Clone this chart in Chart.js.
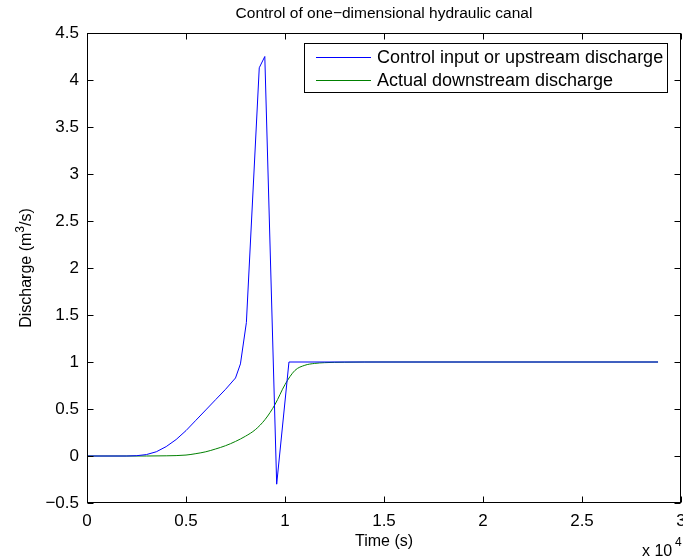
<!DOCTYPE html>
<html>
<head>
<meta charset="utf-8">
<script src="https://cdn.jsdelivr.net/npm/chart.js@4.4.0/dist/chart.umd.min.js"></script>
<style>
  html, body { margin: 0; padding: 0; background: #fff; }
</style>
</head>
<body>
<canvas id="canalChart" width="683" height="560"></canvas>
<script>
// Upstream (control input) discharge, time in seconds
const upstreamTime = [0, 2000, 2500, 3000, 3500, 4000, 4500, 5000, 5500, 6000, 6500, 7000, 7500, 7750, 8050, 8700, 8980, 9580, 10200, 28840];
const upstreamFlow = [0, 0, 0.003, 0.015, 0.045, 0.1, 0.175, 0.27, 0.38, 0.49, 0.6, 0.71, 0.83, 0.98, 1.42, 4.13, 4.25, -0.3, 1.0, 1.0];

// Actual downstream discharge
const downstreamTime = [0, 3000, 4000, 5000, 5500, 6000, 6500, 7000, 7500, 8000, 8500, 9000, 9500, 10000, 10500, 11000, 11500, 12000, 13000, 15000, 28840];
const downstreamFlow = [0, 0, 0.002, 0.01, 0.025, 0.045, 0.075, 0.11, 0.155, 0.21, 0.28, 0.39, 0.55, 0.76, 0.91, 0.965, 0.985, 0.993, 0.998, 1.0, 1.0];

const seriesLabels = ['Control input or upstream discharge', 'Actual downstream discharge'];
const xTicks = [0, 5000, 10000, 15000, 20000, 25000, 30000];
const yTicks = [-0.5, 0, 0.5, 1, 1.5, 2, 2.5, 3, 3.5, 4, 4.5];

const FONT = "'Liberation Sans', Arial, Helvetica, sans-serif";

const toPoints = (xs, ys) => xs.map((x, i) => ({x: x, y: ys[i]}));

// Frame, inward ticks, titles and the in-plot legend (MATLAB look)
const matlabFrame = {
    id: 'matlabFrame',
    afterDraw(chart) {
        const ctx = chart.ctx;
        const a = chart.chartArea;
        const xs = chart.scales.x, ys = chart.scales.y;
        const L = Math.round(a.left) + 0.5, R = Math.round(a.right) - 0.5;
        const T = Math.round(a.top) + 0.5, B = Math.round(a.bottom) - 0.5;
        ctx.save();
        ctx.strokeStyle = '#000';
        ctx.lineWidth = 1;
        ctx.strokeRect(L, T, R - L, B - T);
        // tick marks pointing inwards on all four sides
        ctx.beginPath();
        xTicks.forEach(v => {
            const px = Math.round(xs.getPixelForValue(v)) + 0.5;
            ctx.moveTo(px, B); ctx.lineTo(px, B - 6);
            ctx.moveTo(px, T); ctx.lineTo(px, T + 6);
        });
        yTicks.forEach(v => {
            const py = Math.round(ys.getPixelForValue(v)) + 0.5;
            ctx.moveTo(L, py); ctx.lineTo(L + 6, py);
            ctx.moveTo(R, py); ctx.lineTo(R - 6, py);
        });
        ctx.stroke();

        ctx.fillStyle = '#000';
        // title
        ctx.font = '15.5px ' + FONT;
        ctx.textAlign = 'center';
        ctx.textBaseline = 'alphabetic';
        ctx.fillText('Control of one\u2212dimensional hydraulic canal', (a.left + a.right) / 2, 18);
        // x title
        ctx.font = '16px ' + FONT;
        ctx.fillText('Time (s)', (a.left + a.right) / 2, 546);
        // y title with a raised 3
        ctx.save();
        ctx.translate(31, (a.top + a.bottom) / 2);
        ctx.rotate(-Math.PI / 2);
        ctx.textAlign = 'left';
        const p1 = 'Discharge (m', p2 = '3', p3 = '/s)';
        ctx.font = '16px ' + FONT;
        const w1 = ctx.measureText(p1).width, w3 = ctx.measureText(p3).width;
        ctx.font = '12px ' + FONT;
        const w2 = ctx.measureText(p2).width;
        let x0 = -(w1 + w2 + w3) / 2;
        ctx.font = '16px ' + FONT;
        ctx.fillText(p1, x0, 0);
        ctx.font = '12px ' + FONT;
        ctx.fillText(p2, x0 + w1, -7);
        ctx.font = '16px ' + FONT;
        ctx.fillText(p3, x0 + w1 + w2, 0);
        ctx.restore();
        // exponent
        ctx.textAlign = 'left';
        ctx.font = '16px ' + FONT;
        ctx.fillText('x 10', 642, 556);
        ctx.font = '12px ' + FONT;
        ctx.fillText('4', 675, 546);

        // legend box
        const box = {left: 304, top: 43, right: 668, bottom: 93};
        ctx.fillStyle = '#fff';
        ctx.fillRect(box.left, box.top, box.right - box.left, box.bottom - box.top);
        ctx.strokeStyle = '#000';
        ctx.strokeRect(box.left + 0.5, box.top + 0.5, box.right - box.left - 1, box.bottom - box.top - 1);
        const rows = [57.5, 80.5];
        ctx.font = '18px ' + FONT;
        ctx.textBaseline = 'middle';
        chart.data.datasets.forEach((ds, i) => {
            ctx.strokeStyle = ds.borderColor;
            ctx.beginPath();
            ctx.moveTo(316, rows[i]); ctx.lineTo(371, rows[i]);
            ctx.stroke();
            ctx.fillStyle = '#000';
            ctx.fillText(ds.label, 377, rows[i] + 1);
        });
        ctx.restore();
    }
};

const canalConfig = {
    type: 'line',
    data: {
        datasets: [{
            label: seriesLabels[0],
            data: toPoints(upstreamTime, upstreamFlow),
            borderColor: '#0000FF',
            borderWidth: 1,
            pointRadius: 0,
            tension: 0,
            fill: false
        }, {
            label: seriesLabels[1],
            data: toPoints(downstreamTime, downstreamFlow),
            borderColor: '#008000',
            borderWidth: 1,
            pointRadius: 0,
            cubicInterpolationMode: 'monotone',
            fill: false
        }]
    },
    options: {
        responsive: false,
        devicePixelRatio: 1,
        animation: false,
        layout: {padding: {left: 0, top: 33, right: 2, bottom: 0}},
        plugins: {
            legend: {display: false},
            title: {display: false},
            tooltip: {enabled: false}
        },
        scales: {
            x: {
                type: 'linear',
                min: 0,
                max: 30000,
                afterBuildTicks: s => { s.ticks = xTicks.map(v => ({value: v})); },
                afterFit: s => { s.height = 57; s.paddingLeft = 0; s.paddingRight = 0; },
                grid: {display: false, drawTicks: false},
                border: {display: false},
                ticks: {
                    color: '#000',
                    font: {family: FONT, size: 17},
                    padding: 8,
                    maxRotation: 0,
                    callback: v => String(v / 10000)
                }
            },
            y: {
                type: 'linear',
                min: -0.5,
                max: 4.5,
                afterBuildTicks: s => { s.ticks = yTicks.map(v => ({value: v})); },
                afterFit: s => { s.width = 87; s.paddingTop = 0; s.paddingBottom = 0; },
                grid: {display: false, drawTicks: false},
                border: {display: false},
                ticks: {
                    color: '#000',
                    font: {family: FONT, size: 17},
                    padding: 8,
                    callback: v => String(v).replace('-', '\u2212')
                }
            }
        }
    },
    plugins: [matlabFrame]
};

const canalChart = new Chart(document.getElementById('canalChart'), canalConfig);
</script>
</body>
</html>
